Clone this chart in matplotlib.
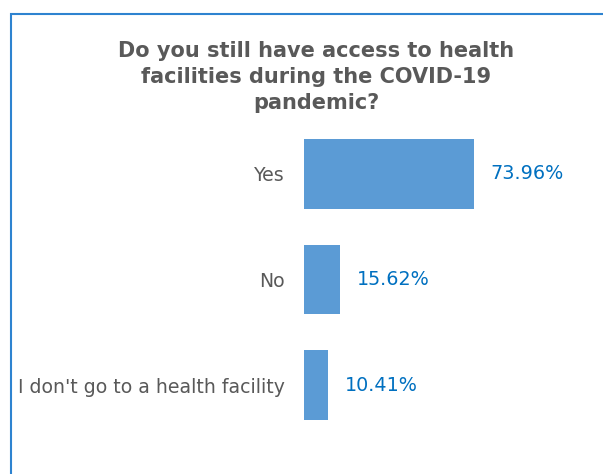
import matplotlib.pyplot as plt
from matplotlib.patches import Rectangle

categories = ["Yes", "No", "I don't go to a health facility"]
values = [73.96, 15.62, 10.41]
value_labels = ["73.96%", "15.62%", "10.41%"]
title = "Do you still have access to health\nfacilities during the COVID-19\npandemic?"

fig = plt.figure(figsize=(6.03, 4.74), dpi=100)

# chart frame (only left and top edges visible in the crop)
fig.patches.append(Rectangle((11 / 603, -0.1), 1.2, 1 - 14 / 474 + 0.1,
                             transform=fig.transFigure, fill=False,
                             edgecolor="#2E83D0", linewidth=1.5))

ax = fig.add_axes([304 / 603, 36 / 474, 230 / 603, 317 / 474])
ypos = range(len(categories))
ax.barh(ypos, values, height=0.66, color="#5B9BD5")
ax.set_xlim(0, 100)
ax.set_ylim(2.5, -0.5)
ax.set_yticks(list(ypos))
ax.set_yticklabels(categories, fontsize=13.6, color="#595959")
ax.tick_params(axis="y", length=0, pad=14)
ax.set_xticks([])
for s in ax.spines.values():
    s.set_visible(False)

for y, v, lab in zip(ypos, values, value_labels):
    ax.annotate(lab, (v, y), xytext=(12, 0), textcoords="offset points",
                va="center", ha="left", fontsize=13.8, color="#0070C0")

fig.text(316 / 603, 1 - 77 / 474, title, ha="center", va="center",
         fontsize=15, fontweight="bold", color="#595959", linespacing=1.35)

fig.savefig("out.png", dpi=100)
